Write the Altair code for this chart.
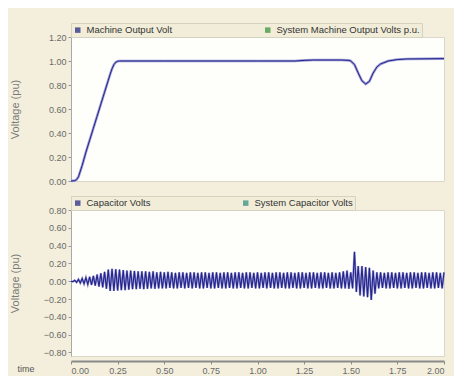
import altair as alt
import pandas as pd

# ---- data ----
top_t = [0.00, 0.02, 0.03, 0.04, 0.06, 0.08, 0.10, 0.12, 0.14, 0.16, 0.18, 0.20,
         0.21, 0.22, 0.23, 0.24, 0.25, 0.26, 0.50, 1.00, 1.20, 1.25, 1.30, 1.45,
         1.49, 1.50, 1.52, 1.54, 1.56, 1.58, 1.60, 1.62, 1.64, 1.66, 1.70, 1.75,
         1.80, 2.00]
machine_volt = [0.000, 0.003, 0.012, 0.035, 0.130, 0.240, 0.340, 0.440, 0.540, 0.640,
                0.740, 0.840, 0.890, 0.935, 0.970, 0.990, 0.998, 1.000, 1.000, 1.000,
                1.000, 1.005, 1.008, 1.008, 1.005, 1.000, 0.970, 0.900, 0.835, 0.808,
                0.830, 0.900, 0.950, 0.975, 1.000, 1.012, 1.017, 1.020]
system_volt = [0.000, 0.003, 0.012, 0.035, 0.130, 0.240, 0.340, 0.440, 0.540, 0.640,
               0.740, 0.840, 0.890, 0.935, 0.970, 0.990, 0.998, 1.000, 1.000, 1.000,
               1.000, 1.005, 1.008, 1.008, 1.005, 1.000, 0.970, 0.900, 0.835, 0.808,
               0.830, 0.900, 0.950, 0.975, 1.000, 1.012, 1.017, 1.020]

cap_t = [i / 100 for i in range(201)]  # sample instants, one per half cycle
cap_volts = [
    0.000, -0.005, 0.010, -0.012, 0.020, -0.020, 0.030, -0.028, 0.040, -0.035,
    0.050, -0.042, 0.060, -0.050, 0.075, -0.060, 0.090, -0.070, 0.105, -0.085,
    0.130, -0.110, 0.140, -0.110, 0.135, -0.105, 0.130, -0.100, 0.125, -0.100,
    0.120, -0.095, 0.120, -0.090, 0.115, -0.090, 0.110, -0.085, 0.110, -0.090,
    0.110, -0.085, 0.105, -0.080, 0.110, -0.085, 0.100, -0.080, 0.105, -0.080,
    0.100, -0.080, 0.105, -0.075, 0.100, -0.080, 0.095, -0.080, 0.100, -0.075,
    0.100, -0.080, 0.095, -0.075, 0.100, -0.080, 0.100, -0.075, 0.095, -0.080,
    0.100, -0.080, 0.100, -0.075, 0.095, -0.080, 0.100, -0.080, 0.100, -0.075,
    0.095, -0.080, 0.100, -0.080, 0.100, -0.075, 0.095, -0.080, 0.100, -0.080,
    0.100, -0.075, 0.095, -0.080, 0.100, -0.080, 0.100, -0.075, 0.095, -0.080,
    0.100, -0.080, 0.095, -0.075, 0.100, -0.080, 0.100, -0.075, 0.095, -0.080,
    0.100, -0.080, 0.100, -0.075, 0.095, -0.080, 0.100, -0.080, 0.100, -0.075,
    0.095, -0.080, 0.100, -0.080, 0.100, -0.075, 0.095, -0.080, 0.100, -0.080,
    0.100, -0.075, 0.095, -0.080, 0.100, -0.080, 0.100, -0.075, 0.095, -0.080,
    0.100, -0.080, 0.095, -0.075, 0.100, -0.080, 0.110, -0.080, 0.120, -0.085,
    0.100, -0.080, 0.330, -0.120, 0.170, -0.160, 0.170, -0.170, 0.160, -0.180,
    0.150, -0.210, 0.120, -0.140, 0.100, -0.080, 0.100, -0.075, 0.095, -0.080,
    0.100, -0.080, 0.100, -0.075, 0.095, -0.080, 0.100, -0.080, 0.100, -0.075,
    0.095, -0.080, 0.100, -0.080, 0.100, -0.075, 0.095, -0.080, 0.100, -0.080,
    0.100, -0.075, 0.095, -0.080, 0.100, -0.080, 0.100, -0.075, 0.095, -0.080,
    0.100,
]
sys_cap_volts = list(cap_volts)

top_names = ["Machine Output Volt", "System Machine Output Volts p.u."]
bot_names = ["Capacitor Volts", "System Capacitor Volts"]
top_ticks = [0.0, 0.2, 0.4, 0.6, 0.8, 1.0, 1.2]
bot_ticks = [-0.8, -0.6, -0.4, -0.2, 0.0, 0.2, 0.4, 0.6, 0.8]
x_ticks = [0.0, 0.25, 0.5, 0.75, 1.0, 1.25, 1.5, 1.75, 2.0]

# ---- styling ----
BG = "#f3efdc"
NAVY = "#24248a"
LAV = "#9c9cd8"
FONT = "Liberation Sans"

m_df = pd.DataFrame({"t": top_t, "v": machine_volt, "series": top_names[0]})
s_df = pd.DataFrame({"t": top_t, "v": system_volt, "series": top_names[1]})
top_all = pd.concat([m_df, s_df], ignore_index=True)

c_df = pd.DataFrame({"t": cap_t, "v": cap_volts, "series": bot_names[0]})
sc_df = pd.DataFrame({"t": cap_t, "v": sys_cap_volts, "series": bot_names[1]})
bot_all = pd.concat([c_df, sc_df], ignore_index=True)


def legend():
    return alt.Legend(
        title=None, orient="top", direction="horizontal", offset=0,
        symbolType="square", symbolSize=30, symbolStrokeWidth=0,
        labelFont=FONT, labelFontSize=9.5, labelColor="#333333",
        columnPadding=90, padding=2, strokeColor="#d6d2c0",
        fillColor="#f1edd9", labelLimit=300,
    )


def yaxis(ticks):
    return alt.Axis(
        values=ticks, format=".2f", title="Voltage (pu)", titleX=-51,
        titleFont=FONT, titleFontSize=11, titleFontWeight="normal",
        titleColor="#7a7a7a", labelFont=FONT, labelFontSize=9,
        labelColor="#6a6a6a", tickColor="#9a9a9a", tickSize=3,
        domainColor="#a8a8a8", grid=False, labelPadding=2,
    )


x_top = alt.X("t:Q", scale=alt.Scale(domain=[0, 2], nice=False), axis=None)
y_top = alt.Y("v:Q", scale=alt.Scale(domain=[0, 1.2], nice=False), axis=yaxis(top_ticks))

top = alt.layer(
    alt.Chart(s_df).mark_line(color=LAV, strokeWidth=2.6).encode(x=x_top, y=y_top),
    alt.Chart(m_df).mark_line(color=NAVY, strokeWidth=1).encode(x=x_top, y=y_top),
    alt.Chart(top_all).mark_square(size=0).encode(
        x=x_top, y=y_top,
        color=alt.Color("series:N", scale=alt.Scale(domain=top_names, range=["#1c1c7e", "#2f8f2f"]),
                        legend=legend()),
    ),
).properties(width=373, height=144)

x_bot = alt.X(
    "t:Q", scale=alt.Scale(domain=[0, 2], nice=False),
    axis=alt.Axis(
        values=x_ticks, format=".2f", title="time", titleX=-54, titleY=7,
        titleAlign="left", titleBaseline="middle", titleFont=FONT,
        titleFontSize=9, titleFontWeight="normal", titleColor="#555555",
        labelFont=FONT, labelFontSize=9, labelColor="#6a6a6a", offset=5,
        domainColor="#8a8a8a", domainWidth=2, tickColor="#8a8a8a", tickSize=3,
        grid=False, labelPadding=2,
    ),
)
y_bot = alt.Y("v:Q", scale=alt.Scale(domain=[-0.84, 0.8], nice=False), axis=yaxis(bot_ticks))

bottom = alt.layer(
    alt.Chart(sc_df).mark_line(color=LAV, strokeWidth=2.2).encode(x=x_bot, y=y_bot),
    alt.Chart(c_df).mark_line(color=NAVY, strokeWidth=1.1).encode(x=x_bot, y=y_bot),
    alt.Chart(bot_all).mark_square(size=0).encode(
        x=x_bot, y=y_bot,
        color=alt.Color("series:N", scale=alt.Scale(domain=bot_names, range=["#1c1c7e", "#2a8a7c"]),
                        legend=legend()),
    ),
).properties(width=373, height=146)

chart = (
    alt.vconcat(top, bottom, spacing=8)
    .resolve_scale(color="independent")
    .resolve_legend(color="independent")
    .configure_view(fill="#fefefa", stroke="#dcd8c8")
    .properties(background=BG, padding={"left": 0, "top": 14, "right": 4, "bottom": 0})
)

chart.save("out.html", embed_options={"renderer": "svg", "actions": False})
